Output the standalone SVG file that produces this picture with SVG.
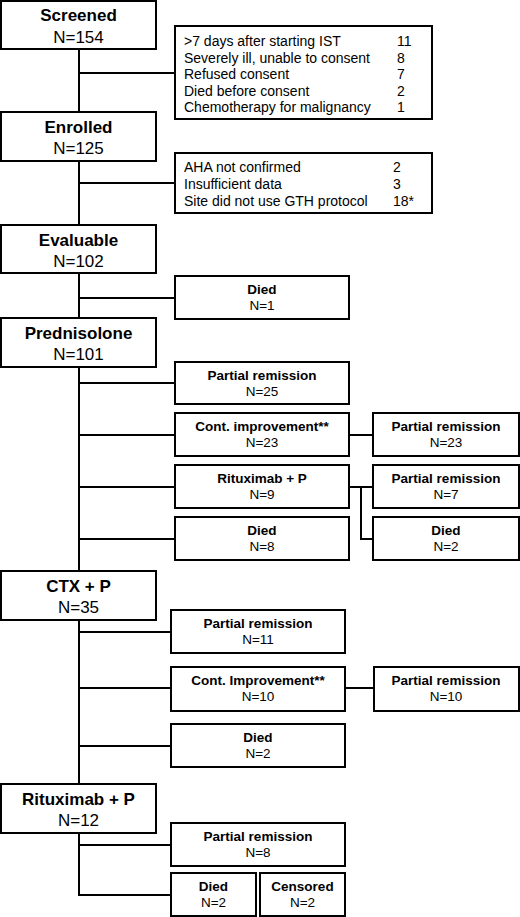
<svg xmlns="http://www.w3.org/2000/svg" width="520" height="917" viewBox="0 0 520 917">
<style>
rect{fill:#fff;stroke:#000;stroke-width:2}
text{font-family:"Liberation Sans",Arial,sans-serif;fill:#000}
.mt{font-size:17px;font-weight:bold;text-anchor:middle}
.mn{font-size:17px;text-anchor:middle}
.st{font-size:13.5px;font-weight:bold;text-anchor:middle}
.sn{font-size:13.5px;text-anchor:middle}
.ex{font-size:14px}
#connectors path{fill:none;stroke:#000;stroke-width:2}
</style>
<g id="connectors">
<path d="M79 49V112M79 73H175M79 161V225M79 183H175M79 273V318M79 298H175M79 367V571M79 383H175M79 435H175M79 487H175M79 539H175M79 620V784M79 632H171M79 688H171M79 746H171M79 833V895H171M79 845H171"/>
<path d="M349 435H373M349 487H373M361 487V539H373M345 688H374"/>
</g>
<g id="screened"><rect x="1" y="1" width="155" height="48"/><text class="mt" x="78.5" y="21">Screened</text><text class="mn" x="78.5" y="43">N=154</text></g>
<g id="excl1"><rect x="175" y="26" width="257" height="93"/>
<text class="ex" x="184" y="46">&gt;7 days after starting IST</text><text class="ex" x="397" y="46">11</text>
<text class="ex" x="184" y="62.5">Severely ill, unable to consent</text><text class="ex" x="397" y="62.5">8</text>
<text class="ex" x="184" y="79">Refused consent</text><text class="ex" x="397" y="79">7</text>
<text class="ex" x="184" y="95.5">Died before consent</text><text class="ex" x="397" y="95.5">2</text>
<text class="ex" x="184" y="112">Chemotherapy for malignancy</text><text class="ex" x="397" y="112">1</text></g>
<g id="enrolled"><rect x="1" y="112" width="155" height="49"/><text class="mt" x="78.5" y="133">Enrolled</text><text class="mn" x="78.5" y="154">N=125</text></g>
<g id="excl2"><rect x="175" y="153" width="257" height="60"/>
<text class="ex" x="184" y="171.5">AHA not confirmed</text><text class="ex" x="393" y="171.5">2</text>
<text class="ex" x="184" y="188.5">Insufficient data</text><text class="ex" x="393" y="188.5">3</text>
<text class="ex" x="184" y="205.5">Site did not use GTH protocol</text><text class="ex" x="393" y="205.5">18*</text></g>
<g id="evaluable"><rect x="1" y="225" width="155" height="48"/><text class="mt" x="78.5" y="246">Evaluable</text><text class="mn" x="78.5" y="267">N=102</text></g>
<g id="died1"><rect x="175" y="276" width="174" height="43"/><text class="st" x="262" y="294">Died</text><text class="sn" x="262" y="310">N=1</text></g>
<g id="prednisolone"><rect x="1" y="318" width="155" height="49"/><text class="mt" x="78.5" y="339">Prednisolone</text><text class="mn" x="78.5" y="360">N=101</text></g>
<g id="pr25"><rect x="175" y="362" width="174" height="42"/><text class="st" x="262" y="380">Partial remission</text><text class="sn" x="262" y="396">N=25</text></g>
<g id="ci23"><rect x="175" y="413" width="174" height="43"/><text class="st" x="262" y="431">Cont. improvement**</text><text class="sn" x="262" y="447">N=23</text></g>
<g id="pr23"><rect x="373" y="413" width="146" height="43"/><text class="st" x="446" y="431">Partial remission</text><text class="sn" x="446" y="447">N=23</text></g>
<g id="rp9"><rect x="175" y="465" width="174" height="43"/><text class="st" x="262" y="483">Rituximab + P</text><text class="sn" x="262" y="499">N=9</text></g>
<g id="pr7"><rect x="373" y="465" width="146" height="43"/><text class="st" x="446" y="483">Partial remission</text><text class="sn" x="446" y="499">N=7</text></g>
<g id="died8"><rect x="175" y="517" width="174" height="43"/><text class="st" x="262" y="535">Died</text><text class="sn" x="262" y="551">N=8</text></g>
<g id="died2a"><rect x="373" y="517" width="146" height="43"/><text class="st" x="446" y="535">Died</text><text class="sn" x="446" y="551">N=2</text></g>
<g id="ctx"><rect x="1" y="571" width="155" height="49"/><text class="mt" x="78.5" y="592">CTX + P</text><text class="mn" x="78.5" y="613">N=35</text></g>
<g id="pr11"><rect x="171" y="610" width="174" height="43"/><text class="st" x="258" y="628">Partial remission</text><text class="sn" x="258" y="644">N=11</text></g>
<g id="ci10"><rect x="171" y="667" width="174" height="44"/><text class="st" x="258" y="685">Cont. Improvement**</text><text class="sn" x="258" y="701">N=10</text></g>
<g id="pr10"><rect x="374" y="667" width="145" height="44"/><text class="st" x="446" y="685">Partial remission</text><text class="sn" x="446" y="701">N=10</text></g>
<g id="died2b"><rect x="171" y="724" width="174" height="43"/><text class="st" x="258" y="742">Died</text><text class="sn" x="258" y="758">N=2</text></g>
<g id="rp12"><rect x="1" y="784" width="155" height="49"/><text class="mt" x="78.5" y="805">Rituximab + P</text><text class="mn" x="78.5" y="826">N=12</text></g>
<g id="pr8"><rect x="171" y="823" width="174" height="43"/><text class="st" x="258" y="841">Partial remission</text><text class="sn" x="258" y="857">N=8</text></g>
<g id="died2c"><rect x="171" y="873" width="85" height="43"/><text class="st" x="213.5" y="891">Died</text><text class="sn" x="213.5" y="907">N=2</text></g>
<g id="censored"><rect x="260" y="873" width="85" height="43"/><text class="st" x="302.5" y="891">Censored</text><text class="sn" x="302.5" y="907">N=2</text></g>
</svg>
